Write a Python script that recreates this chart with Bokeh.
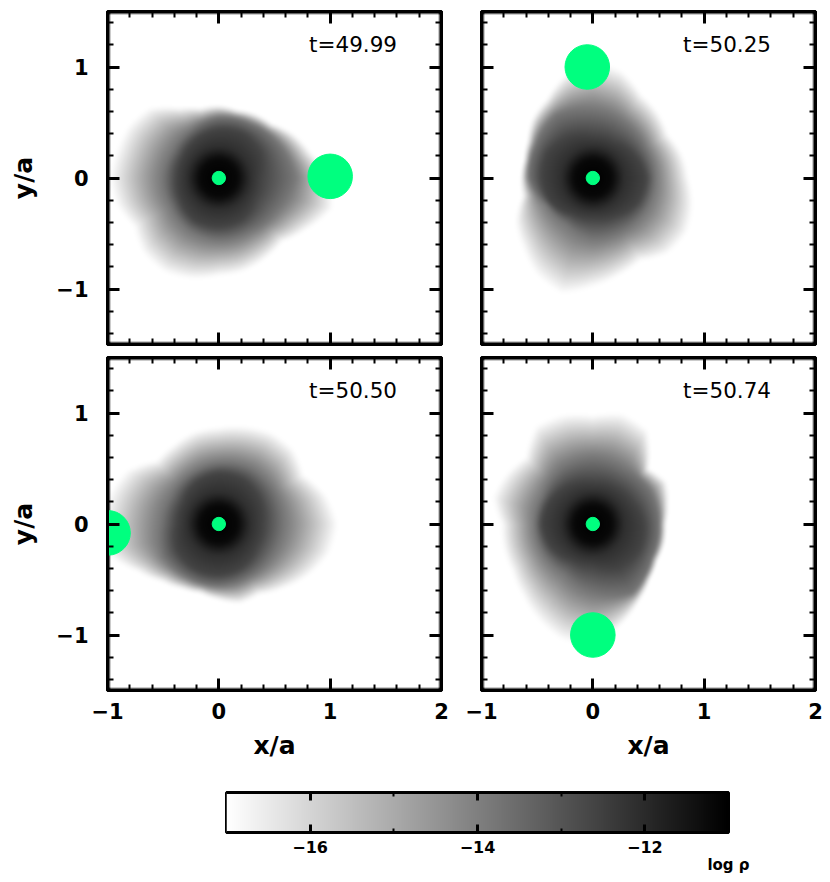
import numpy as np
from bokeh.embed import file_html
from bokeh.layouts import column, row
from bokeh.models import FixedTicker, LinearAxis, LinearColorMapper, Range1d
from bokeh.palettes import Greys256
from bokeh.plotting import figure
from bokeh.resources import INLINE
from bokeh.core.properties import value

# panel captions and where the companion sits (x/a, y/a)
times = ["t=49.99", "t=50.25", "t=50.50", "t=50.74"]
companion_x = [1.0, -0.05, -0.995, 0.0]
companion_y = [0.015, 1.0, -0.08, -1.0]
companion_r = 0.2
primary_r = 0.06

# radius of the gas edge, read every 15 degrees
angles_outer = list(range(0, 360, 15))
outer_1 = [1.0, 0.86, 0.78, 0.68, 0.66, 0.63, 0.65, 0.65, 0.73, 0.89, 0.94, 0.95,
           0.98, 0.95, 0.88, 0.96, 0.98, 0.94, 0.88, 0.87, 0.84, 0.81, 0.92, 1.06]
outer_2 = [0.86, 0.83, 0.78, 0.83, 0.87, 1.0, 1.05, 0.96, 0.82, 0.76, 0.67, 0.63,
           0.64, 0.65, 0.80, 0.89, 1.01, 1.08, 0.98, 0.91, 0.86, 0.96, 0.98, 0.93]
outer_3 = [1.07, 1.0, 0.88, 0.95, 0.95, 0.91, 0.87, 0.86, 0.82, 0.80, 0.96, 1.02,
           1.05, 1.04, 0.85, 0.73, 0.67, 0.64, 0.68, 0.74, 0.73, 0.82, 0.93, 1.03]
outer_4 = [0.65, 0.70, 0.76, 0.70, 0.98, 1.03, 0.98, 1.02, 1.02, 0.85, 0.90, 0.93,
           0.82, 0.83, 0.84, 0.90, 0.99, 1.08, 1.1, 0.95, 0.81, 0.71, 0.66, 0.66]

# radius of the mid grey contour and of the dark disc, every 30 degrees
angles_inner = list(range(0, 360, 30))
mid_1 = [0.68, 0.62, 0.57, 0.55, 0.50, 0.48, 0.50, 0.50, 0.54, 0.56, 0.56, 0.60]
mid_2 = [0.56, 0.55, 0.58, 0.62, 0.66, 0.60, 0.58, 0.48, 0.48, 0.55, 0.55, 0.56]
mid_3 = [0.58, 0.58, 0.58, 0.55, 0.52, 0.50, 0.52, 0.58, 0.56, 0.56, 0.55, 0.56]
mid_4 = [0.60, 0.60, 0.58, 0.60, 0.58, 0.52, 0.52, 0.52, 0.52, 0.62, 0.72, 0.62]
dark_1 = [0.38, 0.44, 0.46, 0.44, 0.41, 0.38, 0.38, 0.40, 0.44, 0.44, 0.43, 0.38]
dark_2 = [0.48, 0.43, 0.38, 0.38, 0.43, 0.47, 0.46, 0.44, 0.38, 0.37, 0.40, 0.46]
dark_3 = [0.40, 0.43, 0.46, 0.46, 0.43, 0.38, 0.38, 0.44, 0.46, 0.46, 0.44, 0.40]
dark_4 = [0.46, 0.41, 0.39, 0.38, 0.41, 0.44, 0.46, 0.43, 0.38, 0.38, 0.46, 0.48]

x_major = [-1, 0, 1, 2]
x_minor = [-0.8, -0.6, -0.4, -0.2, 0.2, 0.4, 0.6, 0.8, 1.2, 1.4, 1.6, 1.8]
y_major = [-1, 0, 1]
y_minor = [-1.4, -1.2, -0.8, -0.6, -0.4, -0.2, 0.2, 0.4, 0.6, 0.8, 1.2, 1.4]
bar_major = [-16, -14, -12]
bar_minor = [-15, -13]

FONT = "DejaVu Sans"
GREEN = "#00ff7f"
rho_low, rho_high = -17, -11
mapper = LinearColorMapper(palette=list(Greys256)[::-1], low=rho_low, high=rho_high, nan_color="white")


def density_field(outer, mid, dark):
    xs = -1 + (np.arange(334) + 0.5) * 3 / 334
    ys = -1.5 + (np.arange(333) + 0.5) * 3 / 333
    xx, yy = np.meshgrid(xs, ys)
    r = np.hypot(xx, yy)
    th = np.degrees(np.arctan2(yy, xx)) % 360
    r_out = np.interp(th, angles_outer, outer, period=360)
    r_mid = np.interp(th, angles_inner, mid, period=360)
    r_dark = np.interp(th, angles_inner, dark, period=360)
    rho = np.full(r.shape, float(rho_low))
    # core to dark disc
    rho = np.where(r < 0.28, np.interp(r, [0, 0.17, 0.28], [-11, -11.2, -12.1]), rho)
    t = (r - 0.28) / (r_dark - 0.28)
    rho = np.where((r >= 0.28) & (r < r_dark), -12.1 - 0.5 * t, rho)
    t = (r - r_dark) / (r_mid - r_dark)
    rho = np.where((r >= r_dark) & (r < r_mid), -12.6 - 1.2 * t, rho)
    t = np.clip((r - r_mid) / (r_out - r_mid), 0, 1)
    rho = np.where((r >= r_mid) & (r < r_out), -13.8 - 3.2 * t ** 1.1, rho)
    # soften the corners of the outline
    kernel = np.ones(7) / 7
    rho = np.apply_along_axis(lambda s: np.convolve(s, kernel, mode="same"), 0, rho)
    rho = np.apply_along_axis(lambda s: np.convolve(s, kernel, mode="same"), 1, rho)
    return np.clip(rho, rho_low, rho_high)


def style_axis(axis, major, minor, labels=True):
    axis.ticker = FixedTicker(ticks=major, minor_ticks=minor)
    axis.axis_line_width = 3
    axis.major_tick_line_width = 3
    axis.minor_tick_line_width = 2
    axis.major_tick_in = 12
    axis.major_tick_out = 0
    axis.minor_tick_in = 6
    axis.minor_tick_out = 0
    if labels:
        axis.major_label_text_font = FONT
        axis.major_label_text_font_style = "bold"
        axis.major_label_text_font_size = "21px"
        axis.major_label_text_color = "black"
    else:
        axis.major_label_overrides = {m: "" for m in major}
        axis.major_label_text_font_size = "0px"
        axis.major_label_standoff = 0


def panel(i, outer, mid, dark, show_x, show_y):
    p = figure(frame_width=334, frame_height=333, output_backend="svg", toolbar_location=None,
               x_range=Range1d(-1, 2), y_range=Range1d(-1.5, 1.5),
               min_border_top=11 if i < 2 else 7, min_border_bottom=6 if i < 2 else 80,
               min_border_left=107 if i % 2 == 0 else 20, min_border_right=20 if i % 2 == 0 else 10)
    p.grid.visible = False
    p.outline_line_color = "black"
    p.outline_line_width = 3
    p.image(image=[density_field(outer, mid, dark)], x=-1, y=-1.5, dw=3, dh=3, color_mapper=mapper)
    p.circle(x=[0], y=[0], radius=primary_r, color=GREEN)
    p.circle(x=[companion_x[i]], y=[companion_y[i]], radius=companion_r, color=GREEN)
    p.text(x=[0.81], y=[1.2], text=[times[i]], text_font=value(FONT), text_font_size="21.5px",
           text_baseline="middle", text_color="black")

    style_axis(p.xaxis[0], x_major, x_minor, show_x)
    style_axis(p.yaxis[0], y_major, y_minor, show_y)
    if show_x:
        p.xaxis.axis_label = "x/a"
        p.xaxis.major_label_standoff = 12
        p.xaxis.axis_label_standoff = 9
    if show_y:
        p.yaxis.axis_label = "y/a"
        p.yaxis.major_label_standoff = 19
        p.yaxis.axis_label_standoff = 15
    for ax in list(p.xaxis) + list(p.yaxis):
        ax.axis_label_text_font = FONT
        ax.axis_label_text_font_style = "bold"
        ax.axis_label_text_font_size = "25px"
        ax.axis_label_text_color = "black"
    top = LinearAxis()
    style_axis(top, x_major, x_minor, False)
    p.add_layout(top, "above")
    right = LinearAxis()
    style_axis(right, y_major, y_minor, False)
    p.add_layout(right, "right")
    return p


p1 = panel(0, outer_1, mid_1, dark_1, False, True)
p2 = panel(1, outer_2, mid_2, dark_2, False, False)
p3 = panel(2, outer_3, mid_3, dark_3, True, True)
p4 = panel(3, outer_4, mid_4, dark_4, True, False)

# colour bar
bar = figure(frame_width=502, frame_height=40, output_backend="svg", toolbar_location=None,
             x_range=Range1d(rho_low, rho_high), y_range=Range1d(0, 1),
             min_border_top=22, min_border_bottom=42, min_border_left=226, min_border_right=94)
bar.grid.visible = False
bar.yaxis.visible = False
bar.outline_line_color = "black"
bar.outline_line_width = 3
bar.image(image=[np.linspace(rho_low, rho_high, 256).reshape(1, -1)], x=rho_low, y=0,
          dw=rho_high - rho_low, dh=1, color_mapper=mapper)
style_axis(bar.xaxis[0], bar_major, bar_minor, True)
bar.xaxis.major_tick_in = 8
bar.xaxis.minor_tick_in = 4
bar.xaxis.major_label_text_font_size = "16px"
bar.xaxis.major_label_standoff = 8
bar.xaxis.axis_label = "log \u03c1"
bar.xaxis.axis_label_align = "end"
bar.xaxis.axis_label_standoff = 0
bar.xaxis.axis_label_text_font = FONT
bar.xaxis.axis_label_text_font_style = "bold"
bar.xaxis.axis_label_text_font_size = "15px"
bar.xaxis.axis_label_text_color = "black"
bar_top = LinearAxis()
style_axis(bar_top, bar_major, bar_minor, False)
bar_top.major_tick_in = 8
bar_top.minor_tick_in = 4
bar.add_layout(bar_top, "above")

layout = column(row(p1, p2), row(p3, p4), bar)
open("out.html", "w").write(file_html(layout, INLINE))
